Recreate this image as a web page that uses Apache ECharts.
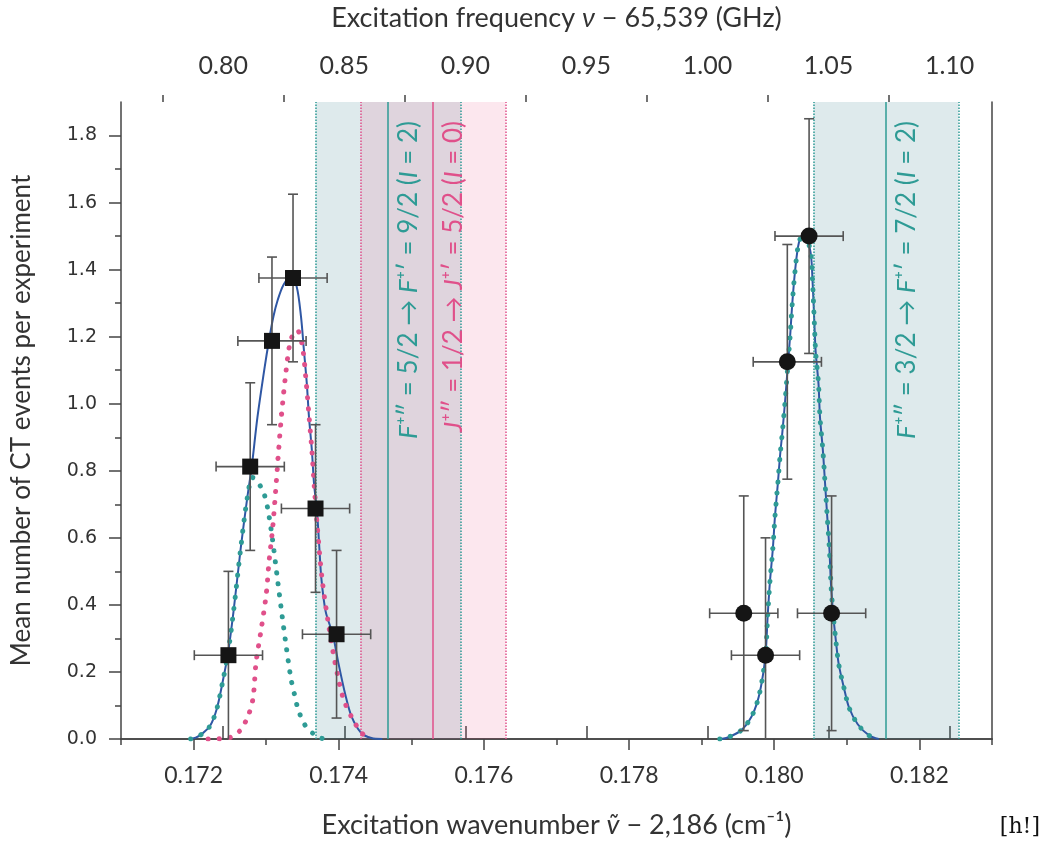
<!DOCTYPE html>
<html>
<head>
<meta charset="utf-8">
<script src="https://cdn.jsdelivr.net/npm/echarts@6/dist/echarts.min.js"></script>
<style>
html,body{margin:0;padding:0;background:#fff;}
#chart{width:1044px;height:844px;}
</style>
</head>
<body>
<div id="chart"></div>
<script>
// axes: wavenumber - 2186 (cm-1) at the bottom, frequency - 65539 (GHz) on top
var waveMin = 0.171, waveMax = 0.183;
var waveTicks = [0.172, 0.174, 0.176, 0.178, 0.180, 0.182];
var waveMinor = [0.171, 0.173, 0.175, 0.177, 0.179, 0.181, 0.183];
var freqTicks = [0.80, 0.85, 0.90, 0.95, 1.00, 1.05, 1.10];
var freqMinor = [0.775, 0.825, 0.875, 0.925, 0.975, 1.025, 1.075];
var countMax = 1.9;
var countTicks = [0, 0.2, 0.4, 0.6, 0.8, 1.0, 1.2, 1.4, 1.6, 1.8];
var countMinor = [0.1, 0.3, 0.5, 0.7, 0.9, 1.1, 1.3, 1.5, 1.7];

// measured points, F+'' = 5/2 scan (squares)
var squareX = [0.17248, 0.17278, 0.17308, 0.17337, 0.17368, 0.17397];
var squareY = [0.25, 0.8125, 1.1875, 1.375, 0.6875, 0.3125];
var squareErr = [0.25, 0.25, 0.25, 0.25, 0.25, 0.25];
// F+'' = 3/2 scan (circles)
var circleX = [0.17958, 0.17988, 0.18018, 0.18048, 0.18079];
var circleY = [0.375, 0.25, 1.125, 1.5, 0.375];
var circleErr = [0.35, 0.35, 0.35, 0.35, 0.35];
var xErr = 0.00047;

// fitted line shapes
var fitLeft = [[0.17196,0],[0.17203,0.004],[0.17212,0.016],[0.17223,0.04],[0.17232,0.09],[0.17240,0.17],
  [0.17247,0.25],[0.17255,0.38],[0.17265,0.57],[0.17274,0.72],[0.17280,0.81],[0.17288,0.96],[0.17298,1.11],
  [0.17304,1.19],[0.17310,1.26],[0.17316,1.31],[0.17324,1.355],[0.17334,1.378],[0.17342,1.35],[0.17348,1.26],
  [0.17352,1.16],[0.17356,1.06],[0.17359,0.96],[0.17363,0.86],[0.17366,0.76],[0.17370,0.68],[0.17373,0.58],
  [0.17376,0.48],[0.17382,0.38],[0.17392,0.31],[0.17399,0.232],[0.17409,0.133],[0.17418,0.065],
  [0.17431,0.018],[0.17445,0.003],[0.17460,0]];
var tealLeft = [[0.17196,0],[0.17203,0.004],[0.17212,0.016],[0.17223,0.04],[0.17232,0.09],[0.17240,0.17],
  [0.17247,0.25],[0.17255,0.38],[0.17265,0.57],[0.17274,0.72],[0.17281,0.78],[0.17287,0.77],[0.17296,0.738],
  [0.17302,0.689],[0.17309,0.591],[0.17315,0.487],[0.17321,0.384],[0.17327,0.286],[0.17334,0.182],
  [0.17339,0.133],[0.17344,0.089],[0.17354,0.040],[0.17372,0.005],[0.17385,0]];
var pinkLeft = [[0.17220,0],[0.17246,0.002],[0.17264,0.025],[0.17276,0.074],[0.17282,0.123],[0.17286,0.227],
  [0.17293,0.325],[0.17300,0.43],[0.17304,0.53],[0.17309,0.63],[0.17314,0.768],[0.17320,0.938],[0.17327,1.09],
  [0.17334,1.191],[0.17343,1.219],[0.17350,1.17],[0.17355,1.068],[0.17359,0.965],[0.17363,0.861],
  [0.17366,0.763],[0.17370,0.645],[0.17377,0.478],[0.17386,0.34],[0.17395,0.227],[0.17406,0.123],
  [0.17418,0.064],[0.17432,0.017],[0.17445,0]];
var fitRight = [[0.17925,0],[0.17934,0.003],[0.17954,0.025],[0.17968,0.064],[0.17977,0.113],[0.17983,0.172],
  [0.17988,0.251],[0.17991,0.369],[0.17994,0.468],[0.17998,0.566],[0.18001,0.664],[0.18005,0.763],
  [0.18008,0.845],[0.18011,0.911],[0.18015,1.009],[0.18019,1.122],[0.18022,1.206],[0.18025,1.304],
  [0.18029,1.403],[0.18034,1.481],[0.18041,1.511],[0.18050,1.452],[0.18053,1.354],[0.18055,1.255],
  [0.18057,1.157],[0.18061,1.058],[0.18063,0.960],[0.18067,0.861],[0.18070,0.763],[0.18073,0.664],
  [0.18076,0.566],[0.18078,0.468],[0.18081,0.376],[0.18085,0.291],[0.18089,0.221],[0.18096,0.153],
  [0.18103,0.094],[0.18115,0.044],[0.18131,0.010],[0.18144,0]];

// transitions: centre and +-uncertainty band
var tealLines = [0.17468, 0.18154];
var pinkLines = [0.17530];
var bandHalf = 0.001;

var GHZ_PER_CM = 29.9792458;
function freqOf(w) { return (w + 2186) * GHZ_PER_CM - 65539; }

var FONT = 'Lato';
var TEAL = '#2e9b95', PINK = '#e0508a', BLUE = '#2f57a4', BAR = '#555';

var chart = echarts.init(document.getElementById('chart'));

function zip(xs, ys, es) {
	var out = [];
	for (var i = 0; i < xs.length; i++) out.push([xs[i], ys[i], es[i]]);
	return out;
}

function errorBars(params, api) {
	var x = api.value(0), y = api.value(1), e = api.value(2);
	var lo = Math.max(0, y - e), hi = y + e;
	var c = api.coord([x, y]);
	var t = api.coord([x, hi]), b = api.coord([x, lo]);
	var l = api.coord([x - xErr, y]), r = api.coord([x + xErr, y]);
	var cap = 5;
	var st = { stroke: BAR, lineWidth: 1.6 };
	var seg = function (x1, y1, x2, y2) {
		return { type: 'line', shape: { x1: x1, y1: y1, x2: x2, y2: y2 }, style: st };
	};
	var kids = [
		seg(c[0], t[1], c[0], b[1]),
		seg(l[0], c[1], r[0], c[1]),
		seg(c[0] - cap, t[1], c[0] + cap, t[1]),
		seg(l[0], c[1] - cap, l[0], c[1] + cap),
		seg(r[0], c[1] - cap, r[0], c[1] + cap)
	];
	if (lo > 0) kids.push(seg(c[0] - cap, b[1], c[0] + cap, b[1]));
	return { type: 'group', children: kids };
}

function bandLabel(text, color) {
	return {
		show: true,
		formatter: text,
		position: 'insideEndBottom',
		distance: [19, 8],
		rich: {
			n: { fontFamily: FONT, fontSize: 26, color: color },
			i: { fontFamily: FONT, fontSize: 26, color: color, fontStyle: 'italic' }
		}
	};
}

function vline(x, color, type, label) {
	var item = [
		{ coord: [x, 0], lineStyle: { color: color, type: type, width: 1.5 } },
		{ coord: [x, countMax] }
	];
	if (label) item[0].label = label;
	return item;
}

var dots = function (color) {
	return { color: color, width: 5, type: [0.1, 11], cap: 'round' };
};

var titleRich = {
	a: { fontFamily: FONT, fontSize: 27, color: '#333' },
	i: { fontFamily: FONT, fontSize: 27, color: '#333', fontStyle: 'italic' }
};

var option = {
	backgroundColor: '#fff',
	animation: false,
	grid: { left: 121, right: 52, top: 99, bottom: 102, containLabel: false },
	xAxis: [
		{
			type: 'value', position: 'bottom', min: waveMin, max: waveMax,
			axisLine: { lineStyle: { color: '#444', width: 1.5 } },
			axisTick: { customValues: waveTicks, length: 11, lineStyle: { color: '#444', width: 1.5 } },
			axisLabel: {
				customValues: waveTicks, margin: 25, fontFamily: FONT, fontSize: 23, color: '#333',
				formatter: function (v) { return v.toFixed(3); }
			},
			splitLine: { show: false },
			name: '{a|Excitation wavenumber }{i|ṽ}{a| − 2,186 (cm⁻¹)}',
			nameLocation: 'middle', nameGap: 73,
			nameTextStyle: { rich: titleRich }
		},
		{
			type: 'value', position: 'bottom', min: waveMin, max: waveMax,
			axisLine: { show: false },
			axisTick: { customValues: waveMinor, length: 6, lineStyle: { color: '#444', width: 1.5 } },
			axisLabel: { show: false }, splitLine: { show: false }
		},
		{
			type: 'value', position: 'top', min: freqOf(waveMin), max: freqOf(waveMax),
			axisLine: { lineStyle: { color: '#444', width: 1.5 } },
			axisTick: { customValues: freqTicks, length: 13, lineStyle: { color: '#444', width: 1.5 } },
			axisLabel: {
				customValues: freqTicks, margin: 24, fontFamily: FONT, fontSize: 25, color: '#333',
				formatter: function (v) { return v.toFixed(2); }
			},
			splitLine: { show: false },
			name: '{a|Excitation frequency }{i|ν}{a| − 65,539 (GHz)}',
			nameLocation: 'middle', nameGap: 70,
			nameTextStyle: { rich: titleRich }
		},
		{
			type: 'value', position: 'top', min: freqOf(waveMin), max: freqOf(waveMax),
			axisLine: { show: false },
			axisTick: { customValues: freqMinor, length: 7, lineStyle: { color: '#444', width: 1.5 } },
			axisLabel: { show: false }, splitLine: { show: false }
		}
	],
	yAxis: [
		{
			type: 'value', position: 'left', min: 0, max: countMax,
			axisLine: { show: true, lineStyle: { color: '#444', width: 1.5 } },
			axisTick: { show: true, customValues: countTicks, length: 12, lineStyle: { color: '#444', width: 1.5 } },
			axisLabel: {
				customValues: countTicks, margin: 24, fontFamily: 'DejaVu Sans', fontSize: 19, color: '#333',
				formatter: function (v) { return v.toFixed(1); }
			},
			splitLine: { show: false },
			name: 'Mean number of CT events per experiment',
			nameLocation: 'middle', nameGap: 86,
			nameTextStyle: { fontFamily: FONT, fontSize: 26, color: '#333' }
		},
		{
			type: 'value', position: 'left', min: 0, max: countMax,
			axisLine: { show: false },
			axisTick: { show: true, customValues: countMinor, length: 6, lineStyle: { color: '#444', width: 1.5 } },
			axisLabel: { show: false }, splitLine: { show: false }
		},
		{
			type: 'value', position: 'right', min: 0, max: countMax,
			axisLine: { show: true, lineStyle: { color: '#444', width: 1.5 } },
			axisTick: { show: false }, axisLabel: { show: false }, splitLine: { show: false }
		}
	],
	series: [
		{
			name: 'bands', type: 'line', silent: true, z: 1, showSymbol: false,
			data: [[waveMin, 0], [waveMax, 0]],
			lineStyle: { opacity: 0 },
			markArea: {
				silent: true,
				data: [
					[{ xAxis: tealLines[0] - bandHalf, itemStyle: { color: 'rgba(48,125,137,0.16)' } }, { xAxis: tealLines[0] + bandHalf }],
					[{ xAxis: pinkLines[0] - bandHalf, itemStyle: { color: 'rgba(230,55,113,0.12)' } }, { xAxis: pinkLines[0] + bandHalf }],
					[{ xAxis: tealLines[1] - bandHalf, itemStyle: { color: 'rgba(48,125,137,0.16)' } }, { xAxis: tealLines[1] + bandHalf }]
				]
			},
			markLine: {
				silent: true, symbol: 'none', animation: false,
				label: { show: false },
				data: [
					vline(tealLines[0] - bandHalf, TEAL, 'dotted'),
					vline(tealLines[0] + bandHalf, TEAL, 'dotted'),
					vline(pinkLines[0] - bandHalf, PINK, 'dotted'),
					vline(pinkLines[0] + bandHalf, PINK, 'dotted'),
					vline(tealLines[1] - bandHalf, TEAL, 'dotted'),
					vline(tealLines[1] + bandHalf, TEAL, 'dotted'),
					vline(tealLines[0], TEAL, 'solid',
						bandLabel('{i|F}{n|⁺″ = 5/2 → }{i|F}{n|⁺′ = 9/2 (}{i|I}{n| = 2)}', TEAL)),
					vline(pinkLines[0], PINK, 'solid',
						bandLabel('{i|J}{n|⁺″ = 1/2 → }{i|J}{n|⁺′ = 5/2 (}{i|I}{n| = 0)}', PINK)),
					vline(tealLines[1], TEAL, 'solid',
						bandLabel('{i|F}{n|⁺″ = 3/2 → }{i|F}{n|⁺′ = 7/2 (}{i|I}{n| = 2)}', TEAL))
				]
			}
		},
		{ name: 'fit left', type: 'line', data: fitLeft, smooth: 0.3, showSymbol: false, z: 3,
			lineStyle: { color: BLUE, width: 2 } },
		{ name: 'teal left', type: 'line', data: tealLeft, smooth: 0.3, showSymbol: false, z: 4,
			lineStyle: dots(TEAL) },
		{ name: 'pink left', type: 'line', data: pinkLeft, smooth: 0.3, showSymbol: false, z: 4,
			lineStyle: dots(PINK) },
		{ name: 'fit right', type: 'line', data: fitRight, smooth: 0.3, showSymbol: false, z: 3,
			lineStyle: { color: BLUE, width: 2 } },
		{ name: 'teal right', type: 'line', data: fitRight, smooth: 0.3, showSymbol: false, z: 4,
			lineStyle: dots(TEAL) },
		{ name: 'err squares', type: 'custom', renderItem: errorBars, data: zip(squareX, squareY, squareErr), z: 5 },
		{ name: 'err circles', type: 'custom', renderItem: errorBars, data: zip(circleX, circleY, circleErr), z: 5 },
		{ name: 'squares', type: 'scatter', symbol: 'rect', symbolSize: 16, z: 6,
			itemStyle: { color: '#151515', opacity: 1 }, data: zip(squareX, squareY, squareErr) },
		{ name: 'circles', type: 'scatter', symbol: 'circle', symbolSize: 17, z: 6,
			itemStyle: { color: '#151515', opacity: 1 }, data: zip(circleX, circleY, circleErr) }
	],
	graphic: [
		{ type: 'text', right: 4, bottom: 6, style: { text: '[h!]', fontFamily: 'DejaVu Serif', fontSize: 22, fill: '#111' } }
	]
};
chart.setOption(option);
</script>
</body>
</html>
